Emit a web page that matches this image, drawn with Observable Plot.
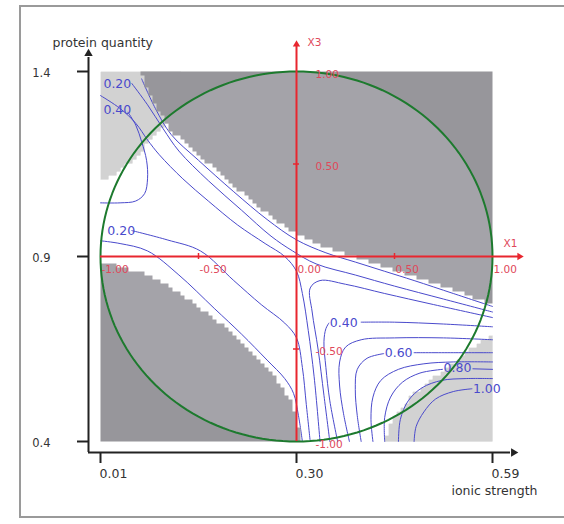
<!DOCTYPE html>
<html>
<head>
<meta charset="utf-8">
<script src="https://cdn.jsdelivr.net/npm/d3@7"></script>
<script src="https://cdn.jsdelivr.net/npm/@observablehq/plot@0.6"></script>
<style>
  html, body { margin: 0; padding: 0; background: #fff; }
  #wrap { position: relative; width: 564px; height: 524px; overflow: hidden; }
  #border { position: absolute; left: 19px; top: 5px; width: 600px; height: 513px; border: 2px solid #9a9a9a; box-sizing: border-box; }
  #chart { position: absolute; left: 0; top: 0; }
</style>
</head>
<body>
<div id="wrap"><div id="border"></div><div id="chart"></div></div>
<script>
// ---------------- data (coded units: X1 = ionic strength, X3 = protein quantity) ----------------
const ionicTicks = [-1, 0, 1];
const ionicTickLabels = ["0.01", "0.30", "0.59"];
const proteinTicks = [-1, 0, 1];
const proteinTickLabels = ["0.4", "0.9", "1.4"];
const codedTicks = [-1, -0.5, 0, 0.5, 1];
const codedTickLabelsX = ["-1.00", "-0.50", "0.00", "0.50", "1.00"];
const codedTicksY = [1, 0.5, -0.5, -1];
const codedTickLabelsY = ["1.00", "0.50", "-0.50", "-1.00"];

// boundaries of the grey (excluded) zones
const greyUpperEdge = [[-0.80,1.0],[-0.72,0.82],[-0.64,0.68],[-0.5,0.55],[-0.32,0.38],[-0.15,0.23],[0.0,0.12],[0.15,0.05],[0.3,0.0],[0.45,-0.06],[0.6,-0.11],[0.8,-0.18],[1.0,-0.26]];
const greyLowerEdge = [[-1.0,-0.04],[-0.95,-0.04],[-0.78,-0.09],[-0.66,-0.15],[-0.49,-0.28],[-0.32,-0.42],[-0.19,-0.56],[-0.08,-0.69],[-0.02,-0.8],[0.01,-0.92],[0.02,-1.0]];
// boundaries of the dotted zones
const dottedTopLeftEdge = [[-1.0,0.41],[-0.95,0.43],[-0.88,0.48],[-0.8,0.56],[-0.73,0.65],[-0.64,0.74],[-0.6,0.8]];
const dottedBottomRightEdge = [[0.45,-1.0],[0.48,-0.9],[0.53,-0.82],[0.6,-0.74],[0.68,-0.67],[0.77,-0.6],[0.86,-0.52],[0.94,-0.46],[1.0,-0.43]];

// iso-response lines (a line is split where its label sits)
const contourLevels = [0.1, 0.2, 0.3, 0.4, 0.2, 0.1, 0.3, 0.4, 0.4, 0.5, 0.6, 0.6, 0.7, 0.8, 0.8, 0.9, 1.0];
const contourPaths = [
  [[-0.79,0.96],[-0.72,0.8],[-0.64,0.66],[-0.5,0.52],[-0.32,0.35],[-0.15,0.2],[0.0,0.09],[0.15,0.02],[0.3,-0.03],[0.45,-0.08],[0.6,-0.13],[0.8,-0.2],[1.0,-0.27]],
  [[-0.84,0.935],[-0.76,0.82],[-0.68,0.69],[-0.6,0.57],[-0.45,0.41],[-0.28,0.25],[-0.13,0.11],[-0.02,0.03],[0.1,-0.04],[0.3,-0.1],[0.5,-0.16],[0.75,-0.23],[1.0,-0.3]],
  [[-1,0.87],[-0.9,0.8],[-0.82,0.72],[-0.76,0.63],[-0.7,0.55],[-0.58,0.42],[-0.45,0.3],[-0.3,0.17],[-0.16,0.07],[-0.06,0.0],[0.0,-0.08],[0.03,-0.2],[0.06,-0.4],[0.09,-0.65],[0.12,-1]],
  [[-0.86,0.78],[-0.82,0.71],[-0.79,0.62],[-0.765,0.52],[-0.76,0.42],[-0.775,0.34],[-0.82,0.3],[-0.9,0.29],[-1,0.29]],
  [[-0.84,0.14],[-0.66,0.09],[-0.49,0.03],[-0.32,-0.13],[-0.18,-0.26],[-0.06,-0.36],[0.0,-0.44],[0.03,-0.6],[0.05,-0.8],[0.07,-1]],
  [[-1,0.085],[-0.9,0.07],[-0.76,0.03],[-0.6,-0.1],[-0.42,-0.28],[-0.28,-0.42],[-0.15,-0.56],[-0.06,-0.66],[-0.015,-0.74],[0.01,-0.86],[0.03,-1]],
  [[1,-0.33],[0.7,-0.26],[0.45,-0.2],[0.25,-0.15],[0.12,-0.13],[0.07,-0.17],[0.08,-0.3],[0.11,-0.5],[0.14,-0.75],[0.17,-1]],
  [[1,-0.38],[0.75,-0.365],[0.5,-0.355],[0.33,-0.355]],
  [[0.165,-0.36],[0.15,-0.39],[0.14,-0.46],[0.15,-0.6],[0.17,-0.78],[0.21,-1]],
  [[1,-0.45],[0.75,-0.44],[0.5,-0.44],[0.33,-0.45],[0.25,-0.49],[0.22,-0.57],[0.22,-0.7],[0.24,-0.85],[0.27,-1]],
  [[1,-0.52],[0.8,-0.52],[0.6,-0.52]],
  [[0.445,-0.525],[0.36,-0.55],[0.31,-0.61],[0.3,-0.72],[0.31,-0.86],[0.33,-1]],
  [[1,-0.57],[0.8,-0.57],[0.65,-0.58],[0.52,-0.61],[0.43,-0.67],[0.39,-0.76],[0.38,-0.88],[0.39,-1]],
  [[1,-0.61],[0.9,-0.607]],
  [[0.745,-0.61],[0.63,-0.63],[0.54,-0.68],[0.48,-0.76],[0.45,-0.87],[0.45,-1]],
  [[1,-0.66],[0.86,-0.66],[0.74,-0.67],[0.64,-0.71],[0.57,-0.78],[0.53,-0.88],[0.52,-1]],
  [[0.895,-0.715],[0.8,-0.73],[0.71,-0.77],[0.65,-0.84],[0.61,-0.92],[0.6,-1]]
];
const labelTexts = ["0.20", "0.40", "0.20", "0.40", "0.60", "0.80", "1.00"];
const labelX = [-0.985, -0.985, -0.965, 0.17, 0.45, 0.75, 0.9];
const labelY = [0.935, 0.79, 0.14, -0.36, -0.52, -0.605, -0.715];
const domainRadius = 1;

// ---------------- layout ----------------
const W = 564, H = 524;
const M = {left: 100, right: 72, top: 71, bottom: 83};
const frameW = W - M.left - M.right, frameH = H - M.top - M.bottom;
const cell = 4;
const cx = 2 * cell / frameW, cy = 2 * cell / frameH;
const snapX = x => (Math.floor((x + 1) / cx) + 0.5) * cx - 1;
const snapY = y => 1 - (Math.floor((1 - y) / cy) + 0.5) * cy;

const last = a => a[a.length - 1];
const polyGreyU = [...greyUpperEdge, [1.05, last(greyUpperEdge)[1]], [1.05, 1.05], [greyUpperEdge[0][0], 1.05]];
const polyGreyL = [...greyLowerEdge, [last(greyLowerEdge)[0], -1.05], [-1.05, -1.05], [-1.05, greyLowerEdge[0][1]]];
const polyDotTL = [...dottedTopLeftEdge, [last(dottedTopLeftEdge)[0], 1.05], [-1.05, 1.05], [-1.05, dottedTopLeftEdge[0][1]]];
const polyDotBR = [...dottedBottomRightEdge, [1.05, last(dottedBottomRightEdge)[1]], [1.05, -1.05], [dottedBottomRightEdge[0][0], -1.05]];

const inGrey = (x, y) => { const p = [snapX(x), snapY(y)]; return d3.polygonContains(polyGreyU, p) || d3.polygonContains(polyGreyL, p); };
const inDotted = (x, y) => { const p = [snapX(x), snapY(y)]; return d3.polygonContains(polyDotTL, p) || d3.polygonContains(polyDotBR, p); };

const lineRows = contourPaths.flatMap((pts, k) => pts.map(([x, y]) => ({k, level: contourLevels[k], x, y})));
const labelRows = labelTexts.map((t, i) => ({t, x: labelX[i], y: labelY[i]}));
const circleRows = d3.range(0, 361, 2).map(a => ({x: domainRadius * Math.cos(a * Math.PI / 180), y: domainRadius * Math.sin(a * Math.PI / 180)}));

const RED = "#e8262f", REDTXT = "#e0485a", BLUE = "#4a4acc", GREEN = "#1d7a2e", INK = "#222";

const plot = Plot.plot({
  width: W, height: H,
  marginLeft: M.left, marginRight: M.right, marginTop: M.top, marginBottom: M.bottom,
  x: {domain: [-1, 1], axis: null},
  y: {domain: [-1, 1], axis: null},
  color: {type: "identity"},
  opacity: {type: "identity"},
  style: {fontFamily: "'DejaVu Sans', sans-serif", background: "transparent", overflow: "visible"},
  marks: [
    // dotted zones (under the iso-response lines)
    Plot.raster({x1: -1, x2: 1, y1: -1, y2: 1, pixelSize: 1,
      fill: (x, y) => { const i = Math.floor((x + 1) / 2 * frameW), j = Math.floor((1 - y) / 2 * frameH); return (i % 2 === 0 && j % 2 === 0) ? "#f4f4f4" : "#c7c7c7"; },
      fillOpacity: (x, y) => inDotted(x, y) ? 1 : 0}),
    // iso-response lines
    Plot.line(lineRows, {x: "x", y: "y", z: "k", stroke: BLUE, strokeWidth: 1, curve: "catmull-rom"}),
    // grey zones (over the lines)
    Plot.raster({x1: -1, x2: 1, y1: -1, y2: 1, pixelSize: 1,
      fill: (x, y) => (x * x + y * y <= 1 ? "#a4a3a9" : "#97969b"),
      fillOpacity: (x, y) => inGrey(x, y) ? 1 : 0}),
    // experimental domain circle
    Plot.line(circleRows, {x: "x", y: "y", stroke: GREEN, strokeWidth: 2}),
    // red coded axes
    Plot.ruleY([0], {x1: -1, x2: 1, insetRight: -26, stroke: RED, strokeWidth: 2}),
    Plot.ruleX([0], {y1: 1, y2: -1, insetTop: -26, stroke: RED, strokeWidth: 2}),
    Plot.dot([{x: 1, y: 0}], {x: "x", y: "y", dx: 27, symbol: "triangle2", rotate: 90, r: 3.5, fill: RED}),
    Plot.dot([{x: 0, y: 1}], {x: "x", y: "y", dy: -27, symbol: "triangle2", r: 3.5, fill: RED}),
    Plot.ruleX([-0.5, 0.5], {y1: 0, y2: 0, insetTop: -3, insetBottom: -3, stroke: RED, strokeWidth: 1.5}),
    Plot.ruleY([-0.5, 0.5], {x1: 0, x2: 0, insetLeft: -3, insetRight: -3, stroke: RED, strokeWidth: 1.5}),
    Plot.text(codedTicks, {x: d => d, y: 0, text: (d, i) => codedTickLabelsX[i], dy: 13, dx: 1, textAnchor: "start", fill: REDTXT, fontSize: 10.5}),
    Plot.text(codedTicksY, {x: 0, y: d => d, text: (d, i) => codedTickLabelsY[i], dx: 19, dy: 3, textAnchor: "start", fill: REDTXT, fontSize: 10.5}),
    Plot.text(["X1"], {x: 1, y: 0, text: d => d, dx: 11, dy: -13, textAnchor: "start", fill: REDTXT, fontSize: 10.5}),
    Plot.text(["X3"], {x: 0, y: 1, text: d => d, dx: 11, dy: -29, textAnchor: "start", fill: REDTXT, fontSize: 10.5}),
    // iso-response labels
    Plot.text(labelRows, {x: "x", y: "y", text: "t", textAnchor: "start", fill: BLUE, fontSize: 12.5}),
    // black natural-unit axes
    Plot.ruleX([-1], {y1: 1, y2: -1, dx: -12, insetTop: -14, insetBottom: -11, stroke: INK, strokeWidth: 2}),
    Plot.ruleY([-1], {x1: -1, x2: 1, dy: 11, insetLeft: -12, insetRight: -18, stroke: INK, strokeWidth: 2}),
    Plot.dot([{x: -1, y: 1}], {x: "x", y: "y", dx: -12, dy: -18, symbol: "triangle2", r: 4, fill: INK}),
    Plot.dot([{x: 1, y: -1}], {x: "x", y: "y", dx: 21, dy: 11, symbol: "triangle2", rotate: 90, r: 4, fill: INK}),
    Plot.ruleY(proteinTicks, {x1: -1, x2: -1, insetLeft: -23, insetRight: 11, stroke: INK, strokeWidth: 2}),
    Plot.ruleX(ionicTicks, {y1: -1, y2: -1, insetTop: 11, insetBottom: -22, stroke: INK, strokeWidth: 2}),
    Plot.text(proteinTicks, {x: -1, y: d => d, text: (d, i) => proteinTickLabels[i], dx: -50, dy: 2, textAnchor: "end", fill: "#333", fontSize: 11.5}),
    Plot.text(ionicTicks, {x: d => d, y: -1, text: (d, i) => ionicTickLabels[i], dx: -1, dy: 32, textAnchor: "start", fill: "#333", fontSize: 12.5}),
    Plot.text(["protein quantity"], {x: -1, y: 1, text: d => d, dx: -48, dy: -29, textAnchor: "start", fill: "#333", fontSize: 12.5}),
    Plot.text(["ionic strength"], {x: 1, y: -1, text: d => d, dx: 45, dy: 49, textAnchor: "end", fill: "#333", fontSize: 12.5})
  ]
});
document.getElementById("chart").appendChild(plot);
</script>
</body>
</html>
